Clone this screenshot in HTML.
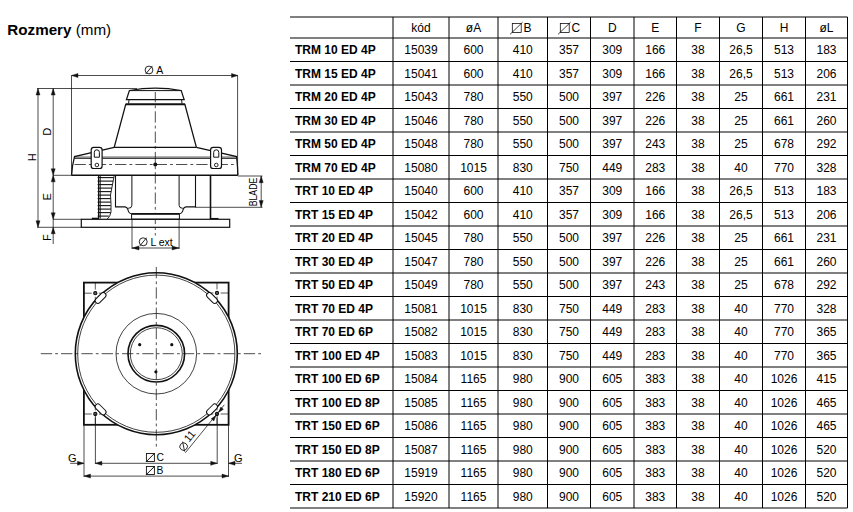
<!DOCTYPE html>
<html><head><meta charset="utf-8">
<style>
html,body{margin:0;padding:0;background:#fff;}
body{width:853px;height:512px;overflow:hidden;position:relative;}
svg{position:absolute;left:0;top:0;}
text{font-family:"Liberation Sans",sans-serif;fill:#000;}
.t{font-size:12.0px;}
.c{text-anchor:middle;}
.bd{font-weight:bold;}
</style></head>
<body>
<svg width="853" height="512" viewBox="0 0 853 512">
<text x="7.3" y="34.7" font-size="15.2"><tspan font-weight="bold">Rozmery</tspan> (mm)</text>
<line x1="290" y1="17" x2="847.5" y2="17" stroke="#000" stroke-width="1"/>
<line x1="290" y1="38" x2="847.5" y2="38" stroke="#000" stroke-width="1"/>
<line x1="290" y1="61.5" x2="847.5" y2="61.5" stroke="#000" stroke-width="1"/>
<line x1="290" y1="85.0" x2="847.5" y2="85.0" stroke="#000" stroke-width="1"/>
<line x1="290" y1="108.5" x2="847.5" y2="108.5" stroke="#000" stroke-width="1"/>
<line x1="290" y1="132.0" x2="847.5" y2="132.0" stroke="#000" stroke-width="1"/>
<line x1="290" y1="155.5" x2="847.5" y2="155.5" stroke="#000" stroke-width="1"/>
<line x1="290" y1="179.0" x2="847.5" y2="179.0" stroke="#000" stroke-width="1"/>
<line x1="290" y1="202.5" x2="847.5" y2="202.5" stroke="#000" stroke-width="1"/>
<line x1="290" y1="226.0" x2="847.5" y2="226.0" stroke="#000" stroke-width="1"/>
<line x1="290" y1="249.5" x2="847.5" y2="249.5" stroke="#000" stroke-width="1"/>
<line x1="290" y1="273.0" x2="847.5" y2="273.0" stroke="#000" stroke-width="1"/>
<line x1="290" y1="296.5" x2="847.5" y2="296.5" stroke="#000" stroke-width="1"/>
<line x1="290" y1="320.0" x2="847.5" y2="320.0" stroke="#000" stroke-width="1"/>
<line x1="290" y1="343.5" x2="847.5" y2="343.5" stroke="#000" stroke-width="1"/>
<line x1="290" y1="367.0" x2="847.5" y2="367.0" stroke="#000" stroke-width="1"/>
<line x1="290" y1="390.5" x2="847.5" y2="390.5" stroke="#000" stroke-width="1"/>
<line x1="290" y1="414.0" x2="847.5" y2="414.0" stroke="#000" stroke-width="1"/>
<line x1="290" y1="437.5" x2="847.5" y2="437.5" stroke="#000" stroke-width="1"/>
<line x1="290" y1="461.0" x2="847.5" y2="461.0" stroke="#000" stroke-width="1"/>
<line x1="290" y1="484.5" x2="847.5" y2="484.5" stroke="#000" stroke-width="1"/>
<line x1="290" y1="508.0" x2="847.5" y2="508.0" stroke="#000" stroke-width="1"/>
<line x1="393" y1="17" x2="393" y2="508.0" stroke="#000" stroke-width="1"/>
<line x1="449" y1="17" x2="449" y2="508.0" stroke="#000" stroke-width="1"/>
<line x1="498" y1="17" x2="498" y2="508.0" stroke="#000" stroke-width="1"/>
<line x1="547.5" y1="17" x2="547.5" y2="508.0" stroke="#000" stroke-width="1"/>
<line x1="590.5" y1="17" x2="590.5" y2="508.0" stroke="#000" stroke-width="1"/>
<line x1="634" y1="17" x2="634" y2="508.0" stroke="#000" stroke-width="1"/>
<line x1="676.5" y1="17" x2="676.5" y2="508.0" stroke="#000" stroke-width="1"/>
<line x1="719.5" y1="17" x2="719.5" y2="508.0" stroke="#000" stroke-width="1"/>
<line x1="762.5" y1="17" x2="762.5" y2="508.0" stroke="#000" stroke-width="1"/>
<line x1="805.5" y1="17" x2="805.5" y2="508.0" stroke="#000" stroke-width="1"/>
<line x1="847.5" y1="17" x2="847.5" y2="508.0" stroke="#000" stroke-width="1"/>
<text x="421.0" y="32.0" class="t c">kód</text>
<text x="473.5" y="32.0" class="t c">øA</text>
<rect x="512.3" y="23.4" width="8.9" height="9.0" fill="none" stroke="#000" stroke-width="0.75"/>
<line x1="510.1" y1="34.3" x2="522.6" y2="22.2" stroke="#000" stroke-width="0.75"/>
<text x="523.6" y="32.0" class="t">B</text>
<rect x="560.3" y="23.4" width="8.9" height="9.0" fill="none" stroke="#000" stroke-width="0.75"/>
<line x1="558.1" y1="34.3" x2="570.6" y2="22.2" stroke="#000" stroke-width="0.75"/>
<text x="571.6" y="32.0" class="t">C</text>
<text x="612.25" y="32.0" class="t c">D</text>
<text x="655.25" y="32.0" class="t c">E</text>
<text x="698.0" y="32.0" class="t c">F</text>
<text x="741.0" y="32.0" class="t c">G</text>
<text x="784.0" y="32.0" class="t c">H</text>
<text x="826.5" y="32.0" class="t c">øL</text>
<text x="295" y="54.05" class="t bd">TRM 10 ED 4P</text>
<text x="421.0" y="54.05" class="t c">15039</text>
<text x="473.5" y="54.05" class="t c">600</text>
<text x="522.75" y="54.05" class="t c">410</text>
<text x="569.0" y="54.05" class="t c">357</text>
<text x="612.25" y="54.05" class="t c">309</text>
<text x="655.25" y="54.05" class="t c">166</text>
<text x="698.0" y="54.05" class="t c">38</text>
<text x="741.0" y="54.05" class="t c">26,5</text>
<text x="784.0" y="54.05" class="t c">513</text>
<text x="826.5" y="54.05" class="t c">183</text>
<text x="295" y="77.55" class="t bd">TRM 15 ED 4P</text>
<text x="421.0" y="77.55" class="t c">15041</text>
<text x="473.5" y="77.55" class="t c">600</text>
<text x="522.75" y="77.55" class="t c">410</text>
<text x="569.0" y="77.55" class="t c">357</text>
<text x="612.25" y="77.55" class="t c">309</text>
<text x="655.25" y="77.55" class="t c">166</text>
<text x="698.0" y="77.55" class="t c">38</text>
<text x="741.0" y="77.55" class="t c">26,5</text>
<text x="784.0" y="77.55" class="t c">513</text>
<text x="826.5" y="77.55" class="t c">206</text>
<text x="295" y="101.05" class="t bd">TRM 20 ED 4P</text>
<text x="421.0" y="101.05" class="t c">15043</text>
<text x="473.5" y="101.05" class="t c">780</text>
<text x="522.75" y="101.05" class="t c">550</text>
<text x="569.0" y="101.05" class="t c">500</text>
<text x="612.25" y="101.05" class="t c">397</text>
<text x="655.25" y="101.05" class="t c">226</text>
<text x="698.0" y="101.05" class="t c">38</text>
<text x="741.0" y="101.05" class="t c">25</text>
<text x="784.0" y="101.05" class="t c">661</text>
<text x="826.5" y="101.05" class="t c">231</text>
<text x="295" y="124.55" class="t bd">TRM 30 ED 4P</text>
<text x="421.0" y="124.55" class="t c">15046</text>
<text x="473.5" y="124.55" class="t c">780</text>
<text x="522.75" y="124.55" class="t c">550</text>
<text x="569.0" y="124.55" class="t c">500</text>
<text x="612.25" y="124.55" class="t c">397</text>
<text x="655.25" y="124.55" class="t c">226</text>
<text x="698.0" y="124.55" class="t c">38</text>
<text x="741.0" y="124.55" class="t c">25</text>
<text x="784.0" y="124.55" class="t c">661</text>
<text x="826.5" y="124.55" class="t c">260</text>
<text x="295" y="148.05" class="t bd">TRM 50 ED 4P</text>
<text x="421.0" y="148.05" class="t c">15048</text>
<text x="473.5" y="148.05" class="t c">780</text>
<text x="522.75" y="148.05" class="t c">550</text>
<text x="569.0" y="148.05" class="t c">500</text>
<text x="612.25" y="148.05" class="t c">397</text>
<text x="655.25" y="148.05" class="t c">243</text>
<text x="698.0" y="148.05" class="t c">38</text>
<text x="741.0" y="148.05" class="t c">25</text>
<text x="784.0" y="148.05" class="t c">678</text>
<text x="826.5" y="148.05" class="t c">292</text>
<text x="295" y="171.55" class="t bd">TRM 70 ED 4P</text>
<text x="421.0" y="171.55" class="t c">15080</text>
<text x="473.5" y="171.55" class="t c">1015</text>
<text x="522.75" y="171.55" class="t c">830</text>
<text x="569.0" y="171.55" class="t c">750</text>
<text x="612.25" y="171.55" class="t c">449</text>
<text x="655.25" y="171.55" class="t c">283</text>
<text x="698.0" y="171.55" class="t c">38</text>
<text x="741.0" y="171.55" class="t c">40</text>
<text x="784.0" y="171.55" class="t c">770</text>
<text x="826.5" y="171.55" class="t c">328</text>
<text x="295" y="195.05" class="t bd">TRT 10 ED 4P</text>
<text x="421.0" y="195.05" class="t c">15040</text>
<text x="473.5" y="195.05" class="t c">600</text>
<text x="522.75" y="195.05" class="t c">410</text>
<text x="569.0" y="195.05" class="t c">357</text>
<text x="612.25" y="195.05" class="t c">309</text>
<text x="655.25" y="195.05" class="t c">166</text>
<text x="698.0" y="195.05" class="t c">38</text>
<text x="741.0" y="195.05" class="t c">26,5</text>
<text x="784.0" y="195.05" class="t c">513</text>
<text x="826.5" y="195.05" class="t c">183</text>
<text x="295" y="218.55" class="t bd">TRT 15 ED 4P</text>
<text x="421.0" y="218.55" class="t c">15042</text>
<text x="473.5" y="218.55" class="t c">600</text>
<text x="522.75" y="218.55" class="t c">410</text>
<text x="569.0" y="218.55" class="t c">357</text>
<text x="612.25" y="218.55" class="t c">309</text>
<text x="655.25" y="218.55" class="t c">166</text>
<text x="698.0" y="218.55" class="t c">38</text>
<text x="741.0" y="218.55" class="t c">26,5</text>
<text x="784.0" y="218.55" class="t c">513</text>
<text x="826.5" y="218.55" class="t c">206</text>
<text x="295" y="242.05" class="t bd">TRT 20 ED 4P</text>
<text x="421.0" y="242.05" class="t c">15045</text>
<text x="473.5" y="242.05" class="t c">780</text>
<text x="522.75" y="242.05" class="t c">550</text>
<text x="569.0" y="242.05" class="t c">500</text>
<text x="612.25" y="242.05" class="t c">397</text>
<text x="655.25" y="242.05" class="t c">226</text>
<text x="698.0" y="242.05" class="t c">38</text>
<text x="741.0" y="242.05" class="t c">25</text>
<text x="784.0" y="242.05" class="t c">661</text>
<text x="826.5" y="242.05" class="t c">231</text>
<text x="295" y="265.55" class="t bd">TRT 30 ED 4P</text>
<text x="421.0" y="265.55" class="t c">15047</text>
<text x="473.5" y="265.55" class="t c">780</text>
<text x="522.75" y="265.55" class="t c">550</text>
<text x="569.0" y="265.55" class="t c">500</text>
<text x="612.25" y="265.55" class="t c">397</text>
<text x="655.25" y="265.55" class="t c">226</text>
<text x="698.0" y="265.55" class="t c">38</text>
<text x="741.0" y="265.55" class="t c">25</text>
<text x="784.0" y="265.55" class="t c">661</text>
<text x="826.5" y="265.55" class="t c">260</text>
<text x="295" y="289.05" class="t bd">TRT 50 ED 4P</text>
<text x="421.0" y="289.05" class="t c">15049</text>
<text x="473.5" y="289.05" class="t c">780</text>
<text x="522.75" y="289.05" class="t c">550</text>
<text x="569.0" y="289.05" class="t c">500</text>
<text x="612.25" y="289.05" class="t c">397</text>
<text x="655.25" y="289.05" class="t c">243</text>
<text x="698.0" y="289.05" class="t c">38</text>
<text x="741.0" y="289.05" class="t c">25</text>
<text x="784.0" y="289.05" class="t c">678</text>
<text x="826.5" y="289.05" class="t c">292</text>
<text x="295" y="312.55" class="t bd">TRT 70 ED 4P</text>
<text x="421.0" y="312.55" class="t c">15081</text>
<text x="473.5" y="312.55" class="t c">1015</text>
<text x="522.75" y="312.55" class="t c">830</text>
<text x="569.0" y="312.55" class="t c">750</text>
<text x="612.25" y="312.55" class="t c">449</text>
<text x="655.25" y="312.55" class="t c">283</text>
<text x="698.0" y="312.55" class="t c">38</text>
<text x="741.0" y="312.55" class="t c">40</text>
<text x="784.0" y="312.55" class="t c">770</text>
<text x="826.5" y="312.55" class="t c">328</text>
<text x="295" y="336.05" class="t bd">TRT 70 ED 6P</text>
<text x="421.0" y="336.05" class="t c">15082</text>
<text x="473.5" y="336.05" class="t c">1015</text>
<text x="522.75" y="336.05" class="t c">830</text>
<text x="569.0" y="336.05" class="t c">750</text>
<text x="612.25" y="336.05" class="t c">449</text>
<text x="655.25" y="336.05" class="t c">283</text>
<text x="698.0" y="336.05" class="t c">38</text>
<text x="741.0" y="336.05" class="t c">40</text>
<text x="784.0" y="336.05" class="t c">770</text>
<text x="826.5" y="336.05" class="t c">365</text>
<text x="295" y="359.55" class="t bd">TRT 100 ED 4P</text>
<text x="421.0" y="359.55" class="t c">15083</text>
<text x="473.5" y="359.55" class="t c">1015</text>
<text x="522.75" y="359.55" class="t c">830</text>
<text x="569.0" y="359.55" class="t c">750</text>
<text x="612.25" y="359.55" class="t c">449</text>
<text x="655.25" y="359.55" class="t c">283</text>
<text x="698.0" y="359.55" class="t c">38</text>
<text x="741.0" y="359.55" class="t c">40</text>
<text x="784.0" y="359.55" class="t c">770</text>
<text x="826.5" y="359.55" class="t c">365</text>
<text x="295" y="383.05" class="t bd">TRT 100 ED 6P</text>
<text x="421.0" y="383.05" class="t c">15084</text>
<text x="473.5" y="383.05" class="t c">1165</text>
<text x="522.75" y="383.05" class="t c">980</text>
<text x="569.0" y="383.05" class="t c">900</text>
<text x="612.25" y="383.05" class="t c">605</text>
<text x="655.25" y="383.05" class="t c">383</text>
<text x="698.0" y="383.05" class="t c">38</text>
<text x="741.0" y="383.05" class="t c">40</text>
<text x="784.0" y="383.05" class="t c">1026</text>
<text x="826.5" y="383.05" class="t c">415</text>
<text x="295" y="406.55" class="t bd">TRT 100 ED 8P</text>
<text x="421.0" y="406.55" class="t c">15085</text>
<text x="473.5" y="406.55" class="t c">1165</text>
<text x="522.75" y="406.55" class="t c">980</text>
<text x="569.0" y="406.55" class="t c">900</text>
<text x="612.25" y="406.55" class="t c">605</text>
<text x="655.25" y="406.55" class="t c">383</text>
<text x="698.0" y="406.55" class="t c">38</text>
<text x="741.0" y="406.55" class="t c">40</text>
<text x="784.0" y="406.55" class="t c">1026</text>
<text x="826.5" y="406.55" class="t c">465</text>
<text x="295" y="430.05" class="t bd">TRT 150 ED 6P</text>
<text x="421.0" y="430.05" class="t c">15086</text>
<text x="473.5" y="430.05" class="t c">1165</text>
<text x="522.75" y="430.05" class="t c">980</text>
<text x="569.0" y="430.05" class="t c">900</text>
<text x="612.25" y="430.05" class="t c">605</text>
<text x="655.25" y="430.05" class="t c">383</text>
<text x="698.0" y="430.05" class="t c">38</text>
<text x="741.0" y="430.05" class="t c">40</text>
<text x="784.0" y="430.05" class="t c">1026</text>
<text x="826.5" y="430.05" class="t c">465</text>
<text x="295" y="453.55" class="t bd">TRT 150 ED 8P</text>
<text x="421.0" y="453.55" class="t c">15087</text>
<text x="473.5" y="453.55" class="t c">1165</text>
<text x="522.75" y="453.55" class="t c">980</text>
<text x="569.0" y="453.55" class="t c">900</text>
<text x="612.25" y="453.55" class="t c">605</text>
<text x="655.25" y="453.55" class="t c">383</text>
<text x="698.0" y="453.55" class="t c">38</text>
<text x="741.0" y="453.55" class="t c">40</text>
<text x="784.0" y="453.55" class="t c">1026</text>
<text x="826.5" y="453.55" class="t c">520</text>
<text x="295" y="477.05" class="t bd">TRT 180 ED 6P</text>
<text x="421.0" y="477.05" class="t c">15919</text>
<text x="473.5" y="477.05" class="t c">1165</text>
<text x="522.75" y="477.05" class="t c">980</text>
<text x="569.0" y="477.05" class="t c">900</text>
<text x="612.25" y="477.05" class="t c">605</text>
<text x="655.25" y="477.05" class="t c">383</text>
<text x="698.0" y="477.05" class="t c">38</text>
<text x="741.0" y="477.05" class="t c">40</text>
<text x="784.0" y="477.05" class="t c">1026</text>
<text x="826.5" y="477.05" class="t c">520</text>
<text x="295" y="500.55" class="t bd">TRT 210 ED 6P</text>
<text x="421.0" y="500.55" class="t c">15920</text>
<text x="473.5" y="500.55" class="t c">1165</text>
<text x="522.75" y="500.55" class="t c">980</text>
<text x="569.0" y="500.55" class="t c">900</text>
<text x="612.25" y="500.55" class="t c">605</text>
<text x="655.25" y="500.55" class="t c">383</text>
<text x="698.0" y="500.55" class="t c">38</text>
<text x="741.0" y="500.55" class="t c">40</text>
<text x="784.0" y="500.55" class="t c">1026</text>
<text x="826.5" y="500.55" class="t c">520</text>
<line x1="71.5" y1="75.5" x2="237.6" y2="75.5" stroke="#111" stroke-width="0.75" />
<path d="M71.50,75.50 L78.00,73.50 L78.00,77.50 Z" fill="#111" stroke="#111" stroke-width="0.4" stroke-linejoin="round"/>
<path d="M238.00,75.50 L231.50,77.50 L231.50,73.50 Z" fill="#111" stroke="#111" stroke-width="0.4" stroke-linejoin="round"/>
<line x1="71.5" y1="75.5" x2="71.5" y2="175.2" stroke="#111" stroke-width="0.75" />
<line x1="237.6" y1="75.5" x2="237.6" y2="175" stroke="#111" stroke-width="0.75" />
<circle cx="149.0" cy="70.0" r="3.9" fill="none" stroke="#111" stroke-width="0.9"/>
<line x1="145.69" y1="73.98" x2="152.31" y2="66.02" stroke="#111" stroke-width="0.9" />
<text x="156.2" y="73.8" font-size="11" text-anchor="start" textLength="7.0" lengthAdjust="spacingAndGlyphs" >A</text>
<line x1="38" y1="88.5" x2="38" y2="227.3" stroke="#111" stroke-width="0.75" />
<path d="M38.00,88.50 L40.00,95.00 L36.00,95.00 Z" fill="#111" stroke="#111" stroke-width="0.4" stroke-linejoin="round"/>
<path d="M38.00,227.30 L36.00,220.80 L40.00,220.80 Z" fill="#111" stroke="#111" stroke-width="0.4" stroke-linejoin="round"/>
<line x1="53.2" y1="88.5" x2="53.2" y2="244" stroke="#111" stroke-width="0.75" />
<path d="M53.20,88.50 L55.20,95.00 L51.20,95.00 Z" fill="#111" stroke="#111" stroke-width="0.4" stroke-linejoin="round"/>
<path d="M53.20,175.30 L51.20,168.80 L55.20,168.80 Z" fill="#111" stroke="#111" stroke-width="0.4" stroke-linejoin="round"/>
<path d="M53.20,175.30 L55.20,181.80 L51.20,181.80 Z" fill="#111" stroke="#111" stroke-width="0.4" stroke-linejoin="round"/>
<path d="M53.20,219.30 L51.20,212.80 L55.20,212.80 Z" fill="#111" stroke="#111" stroke-width="0.4" stroke-linejoin="round"/>
<path d="M53.20,227.30 L55.20,233.80 L51.20,233.80 Z" fill="#111" stroke="#111" stroke-width="0.4" stroke-linejoin="round"/>
<line x1="37" y1="88.5" x2="137" y2="88.5" stroke="#111" stroke-width="0.75" />
<line x1="53" y1="175.3" x2="72" y2="175.3" stroke="#111" stroke-width="0.75" />
<line x1="53" y1="219.3" x2="81.5" y2="219.3" stroke="#111" stroke-width="0.75" />
<line x1="37" y1="227.3" x2="81.5" y2="227.3" stroke="#111" stroke-width="0.75" />
<text x="35.7" y="157.2" font-size="11" text-anchor="middle" transform="rotate(-90 35.7 157.2)" >H</text>
<text x="51.3" y="131.8" font-size="11" text-anchor="middle" transform="rotate(-90 51.3 131.8)" >D</text>
<text x="51.4" y="196.8" font-size="11" text-anchor="middle" transform="rotate(-90 51.4 196.8)" >E</text>
<text x="51.0" y="237.6" font-size="11" text-anchor="middle" transform="rotate(-90 51.0 237.6)" >F</text>
<path d="M126.4,99.7 L129.4,90.5 Q155.3,85.8 181.2,90.5 L184.2,99.7 Z" stroke="#111" stroke-width="1.2" fill="#fff" />
<line x1="129.4" y1="90.6" x2="181.2" y2="90.6" stroke="#111" stroke-width="1.0" />
<path d="M129.0,99.7 L128.6,103.5 M181.6,99.7 L182.0,103.5" stroke="#111" stroke-width="1.0" fill="none" />
<line x1="125.5" y1="104.2" x2="185.1" y2="104.2" stroke="#111" stroke-width="2.0" />
<path d="M125.8,104.2 L114.2,147.3 M184.8,104.2 L196.4,147.3" stroke="#111" stroke-width="1.3" fill="none" />
<line x1="114.2" y1="147.3" x2="196.4" y2="147.3" stroke="#111" stroke-width="1.2" />
<path d="M114.2,147.3 L74.5,156.6 Q72.2,165 71.6,175.2 M196.4,147.3 L236.6,156.6 Q237.6,165 237.9,175.2" stroke="#111" stroke-width="1.3" fill="none" />
<line x1="74.5" y1="157.1" x2="236.6" y2="157.1" stroke="#111" stroke-width="0.8" />
<line x1="74.3" y1="158.5" x2="236.8" y2="158.5" stroke="#111" stroke-width="0.8" />
<line x1="71.6" y1="175.2" x2="237.9" y2="175.2" stroke="#111" stroke-width="1.4" />
<line x1="74.5" y1="164.5" x2="237" y2="164.5" stroke="#111" stroke-width="0.75" stroke-dasharray="11.3 3.1 2.8 3.1"/>
<circle cx="155.3" cy="164.5" r="2.0" fill="#111"/>
<rect x="91.2" y="147.4" width="10.9" height="21.1" rx="2.6" fill="#fff" stroke="#111" stroke-width="1.2"/>
<path d="M94.3,157.2 L94.3,152.3 Q94.3,149.8 96.85,149.8 Q99.39999999999999,149.8 99.39999999999999,152.3 L99.39999999999999,157.2 Z" stroke="#111" stroke-width="1.0" fill="#fff" />
<circle cx="96.9" cy="165" r="1.8" fill="#fff" stroke="#111" stroke-width="0.9"/>
<rect x="210.6" y="147.4" width="10.9" height="21.1" rx="2.6" fill="#fff" stroke="#111" stroke-width="1.2"/>
<path d="M213.7,157.2 L213.7,152.3 Q213.7,149.8 216.25,149.8 Q218.79999999999998,149.8 218.79999999999998,152.3 L218.79999999999998,157.2 Z" stroke="#111" stroke-width="1.0" fill="#fff" />
<circle cx="216.29999999999998" cy="165" r="1.8" fill="#fff" stroke="#111" stroke-width="0.9"/>
<line x1="155.3" y1="92" x2="155.3" y2="235.5" stroke="#111" stroke-width="0.75" stroke-dasharray="11.3 3.1 2.8 3.1" stroke-dashoffset="1"/>
<line x1="98.6" y1="175.2" x2="98.6" y2="218.6" stroke="#111" stroke-width="1.2" />
<line x1="100.2" y1="175.2" x2="100.2" y2="218.6" stroke="#111" stroke-width="1.0" />
<line x1="97.6" y1="177.6" x2="113.8" y2="177.6" stroke="#111" stroke-width="1.1" />
<line x1="97.6" y1="181.1" x2="113.14" y2="181.1" stroke="#111" stroke-width="1.1" />
<line x1="97.6" y1="184.6" x2="112.47" y2="184.6" stroke="#111" stroke-width="1.1" />
<line x1="97.6" y1="188.1" x2="111.81" y2="188.1" stroke="#111" stroke-width="1.1" />
<line x1="97.6" y1="191.6" x2="111.15" y2="191.6" stroke="#111" stroke-width="1.1" />
<line x1="97.6" y1="195.1" x2="110.5" y2="195.1" stroke="#111" stroke-width="1.1" />
<line x1="97.6" y1="198.6" x2="110.61" y2="198.6" stroke="#111" stroke-width="1.1" />
<line x1="97.6" y1="202.1" x2="110.71" y2="202.1" stroke="#111" stroke-width="1.1" />
<line x1="97.6" y1="205.6" x2="110.81" y2="205.6" stroke="#111" stroke-width="1.1" />
<line x1="97.6" y1="209.1" x2="110.91" y2="209.1" stroke="#111" stroke-width="1.1" />
<line x1="97.6" y1="212.6" x2="110.67" y2="212.6" stroke="#111" stroke-width="1.1" />
<line x1="97.6" y1="216.1" x2="108.77" y2="216.1" stroke="#111" stroke-width="1.1" />
<path d="M114.2,175.5 L110.5,195 Q111.3,205 111,212 Q110.2,217 107.2,219" stroke="#111" stroke-width="0.9" fill="none" />
<line x1="91.8" y1="218.4" x2="99" y2="218.4" stroke="#111" stroke-width="1.4" />
<path d="M115.5,175.2 L115.5,206.9 L125.1,206.9 Q127.3,207.2 127.9,209.5 Q128.6,213.4 131.5,213.7" stroke="#111" stroke-width="1.1" fill="none" />
<path d="M131.9,175.2 L131.9,205.3 Q131.9,208.3 128.2,208.3" stroke="#111" stroke-width="1.0" fill="none" />
<path d="M195.5,175.2 L195.5,206.9 L185.9,206.9 Q183.7,207.2 183.1,209.5 Q182.4,213.4 179.5,213.7" stroke="#111" stroke-width="1.1" fill="none" />
<path d="M179.1,175.2 L179.1,205.3 Q179.1,208.3 182.8,208.3" stroke="#111" stroke-width="1.0" fill="none" />
<line x1="210.5" y1="175.2" x2="210.5" y2="219" stroke="#111" stroke-width="1.6" />
<line x1="210.5" y1="218.5" x2="218.5" y2="218.5" stroke="#111" stroke-width="1.1" />
<rect x="131.6" y="213.8" width="47.8" height="5.4" fill="#fff" stroke="#111" stroke-width="1.0"/>
<line x1="131.6" y1="213.9" x2="179.4" y2="213.9" stroke="#111" stroke-width="1.7" />
<rect x="81.3" y="219.3" width="148.4" height="8" fill="none" stroke="#111" stroke-width="1.2"/>
<line x1="237.9" y1="176" x2="262.5" y2="176" stroke="#111" stroke-width="0.75" />
<line x1="195.3" y1="207.3" x2="262.5" y2="207.3" stroke="#111" stroke-width="0.75" />
<line x1="261.2" y1="176" x2="261.2" y2="207.3" stroke="#111" stroke-width="0.75" />
<path d="M261.20,176.20 L263.20,182.70 L259.20,182.70 Z" fill="#111" stroke="#111" stroke-width="0.4" stroke-linejoin="round"/>
<path d="M261.20,207.10 L259.20,200.60 L263.20,200.60 Z" fill="#111" stroke="#111" stroke-width="0.4" stroke-linejoin="round"/>
<text x="256.7" y="192" font-size="10.0" text-anchor="middle" transform="rotate(-90 256.7 192)" textLength="28.6" lengthAdjust="spacingAndGlyphs" >BLADE</text>
<line x1="132" y1="219" x2="132" y2="249" stroke="#111" stroke-width="0.75" />
<line x1="179.1" y1="219" x2="179.1" y2="249" stroke="#111" stroke-width="0.75" />
<line x1="132" y1="248" x2="179.1" y2="248" stroke="#111" stroke-width="0.75" />
<path d="M132.00,248.00 L139.00,246.00 L139.00,250.00 Z" fill="#111" stroke="#111" stroke-width="0.4" stroke-linejoin="round"/>
<path d="M179.10,248.00 L172.10,250.00 L172.10,246.00 Z" fill="#111" stroke="#111" stroke-width="0.4" stroke-linejoin="round"/>
<circle cx="143.2" cy="241.8" r="4.0" fill="none" stroke="#111" stroke-width="0.9"/>
<line x1="139.8" y1="245.88" x2="146.6" y2="237.72" stroke="#111" stroke-width="0.9" />
<text x="150.4" y="245.8" font-size="11" text-anchor="start" textLength="22.3" lengthAdjust="spacingAndGlyphs" >L ext</text>
<rect x="83.9" y="282.6" width="144.7" height="142.2" fill="none" stroke="#111" stroke-width="1.8"/>
<line x1="91.7" y1="293.2" x2="84.0" y2="293.2" stroke="#111" stroke-width="0.7" />
<line x1="98.9" y1="293.2" x2="101.5" y2="293.2" stroke="#111" stroke-width="0.7" />
<line x1="95.3" y1="289.6" x2="95.3" y2="282.6" stroke="#111" stroke-width="0.7" />
<line x1="95.3" y1="296.8" x2="95.3" y2="299.2" stroke="#111" stroke-width="0.7" />
<line x1="220.6" y1="293.0" x2="228.5" y2="293.0" stroke="#111" stroke-width="0.7" />
<line x1="213.4" y1="293.0" x2="210.8" y2="293.0" stroke="#111" stroke-width="0.7" />
<line x1="217.0" y1="289.4" x2="217.0" y2="282.6" stroke="#111" stroke-width="0.7" />
<line x1="217.0" y1="296.6" x2="217.0" y2="299.0" stroke="#111" stroke-width="0.7" />
<line x1="91.7" y1="414.0" x2="84.0" y2="414.0" stroke="#111" stroke-width="0.7" />
<line x1="98.9" y1="414.0" x2="101.5" y2="414.0" stroke="#111" stroke-width="0.7" />
<line x1="95.3" y1="417.6" x2="95.3" y2="424.8" stroke="#111" stroke-width="0.7" />
<line x1="95.3" y1="410.4" x2="95.3" y2="408.0" stroke="#111" stroke-width="0.7" />
<line x1="220.6" y1="414.0" x2="228.5" y2="414.0" stroke="#111" stroke-width="0.7" />
<line x1="213.4" y1="414.0" x2="210.8" y2="414.0" stroke="#111" stroke-width="0.7" />
<line x1="217.0" y1="417.6" x2="217.0" y2="424.8" stroke="#111" stroke-width="0.7" />
<line x1="217.0" y1="410.4" x2="217.0" y2="408.0" stroke="#111" stroke-width="0.7" />
<circle cx="156.3" cy="353.7" r="81" fill="#fff" stroke="#111" stroke-width="1.6"/>
<circle cx="156.3" cy="353.7" r="78.6" fill="none" stroke="#111" stroke-width="0.8"/>
<circle cx="95.3" cy="293.2" r="1.6" fill="#666" stroke="#111" stroke-width="1.1"/>
<circle cx="217.0" cy="293.0" r="1.6" fill="#666" stroke="#111" stroke-width="1.1"/>
<circle cx="95.3" cy="414.0" r="1.6" fill="#666" stroke="#111" stroke-width="1.1"/>
<circle cx="217.0" cy="414.0" r="1.6" fill="#666" stroke="#111" stroke-width="1.1"/>
<circle cx="156.3" cy="353.7" r="40.3" fill="none" stroke="#111" stroke-width="0.8"/>
<circle cx="156.3" cy="353.7" r="28.3" fill="none" stroke="#111" stroke-width="1.6"/>
<circle cx="156.3" cy="353.7" r="26.0" fill="none" stroke="#111" stroke-width="0.8"/>
<circle cx="139.7" cy="344.7" r="1.6" fill="#111"/>
<circle cx="171.8" cy="344.7" r="1.6" fill="#111"/>
<circle cx="155.9" cy="371.8" r="1.6" fill="#111"/>
<rect x="94.08" y="295.28" width="13" height="5.4" rx="2.6" fill="#fff" stroke="#111" stroke-width="1.0" transform="rotate(315 100.58 297.98)"/>
<rect x="205.52" y="295.28" width="13" height="5.4" rx="2.6" fill="#fff" stroke="#111" stroke-width="1.0" transform="rotate(405 212.02 297.98)"/>
<rect x="94.08" y="406.72" width="13" height="5.4" rx="2.6" fill="#fff" stroke="#111" stroke-width="1.0" transform="rotate(225 100.58 409.42)"/>
<rect x="205.52" y="406.72" width="13" height="5.4" rx="2.6" fill="#fff" stroke="#111" stroke-width="1.0" transform="rotate(135 212.02 409.42)"/>
<line x1="40.8" y1="353.7" x2="263" y2="353.7" stroke="#111" stroke-width="0.75" stroke-dasharray="11.3 3.1 2.8 3.1"/>
<line x1="156.3" y1="267" x2="156.3" y2="448" stroke="#111" stroke-width="0.75" stroke-dasharray="11.3 3.1 2.8 3.1"/>
<line x1="84" y1="425" x2="84" y2="477" stroke="#111" stroke-width="0.75" />
<line x1="228.5" y1="425" x2="228.5" y2="477" stroke="#111" stroke-width="0.75" />
<line x1="95.4" y1="414" x2="95.4" y2="464" stroke="#111" stroke-width="0.75" />
<line x1="217.2" y1="414" x2="217.2" y2="464" stroke="#111" stroke-width="0.75" />
<line x1="95.4" y1="463.3" x2="217.2" y2="463.3" stroke="#111" stroke-width="0.75" />
<path d="M95.40,463.30 L101.90,461.30 L101.90,465.30 Z" fill="#111" stroke="#111" stroke-width="0.4" stroke-linejoin="round"/>
<path d="M217.20,463.30 L210.70,465.30 L210.70,461.30 Z" fill="#111" stroke="#111" stroke-width="0.4" stroke-linejoin="round"/>
<line x1="70.2" y1="463.3" x2="84" y2="463.3" stroke="#111" stroke-width="0.75" />
<path d="M84.00,463.30 L77.50,465.30 L77.50,461.30 Z" fill="#111" stroke="#111" stroke-width="0.4" stroke-linejoin="round"/>
<line x1="228.5" y1="463.3" x2="242" y2="463.3" stroke="#111" stroke-width="0.75" />
<path d="M228.50,463.30 L235.00,461.30 L235.00,465.30 Z" fill="#111" stroke="#111" stroke-width="0.4" stroke-linejoin="round"/>
<line x1="84" y1="476.1" x2="228.5" y2="476.1" stroke="#111" stroke-width="0.75" />
<path d="M84.00,476.10 L90.50,474.10 L90.50,478.10 Z" fill="#111" stroke="#111" stroke-width="0.4" stroke-linejoin="round"/>
<path d="M228.50,476.10 L222.00,478.10 L222.00,474.10 Z" fill="#111" stroke="#111" stroke-width="0.4" stroke-linejoin="round"/>
<text x="72.2" y="461.5" font-size="11" text-anchor="middle" >G</text>
<text x="238.4" y="461.5" font-size="11" text-anchor="middle" >G</text>
<rect x="146.4" y="453.5" width="8.0" height="8.0" fill="none" stroke="#111" stroke-width="0.9"/>
<line x1="146.1" y1="461.8" x2="154.7" y2="453.2" stroke="#111" stroke-width="1.0" />
<text x="156.6" y="461.4" font-size="10.3" text-anchor="start" >C</text>
<rect x="146.4" y="466.5" width="8.0" height="8.0" fill="none" stroke="#111" stroke-width="0.9"/>
<line x1="146.1" y1="474.8" x2="154.7" y2="466.2" stroke="#111" stroke-width="1.0" />
<text x="156.6" y="474.3" font-size="10.3" text-anchor="start" >B</text>
<line x1="185.3" y1="452.8" x2="224.3" y2="404.8" stroke="#111" stroke-width="0.75" />
<path d="M216.00,415.60 L213.83,420.93 L211.20,418.78 Z" fill="#111" stroke="#111" stroke-width="0.4" stroke-linejoin="round"/>
<path d="M218.60,412.40 L220.77,407.07 L223.40,409.22 Z" fill="#111" stroke="#111" stroke-width="0.4" stroke-linejoin="round"/>
<g transform="translate(183.7 452.2) rotate(-51)">
<circle cx="4.3" cy="-3.6" r="3.8" fill="none" stroke="#111" stroke-width="0.8"/>
<line x1="1.07" y1="0.28" x2="7.53" y2="-7.48" stroke="#111" stroke-width="0.8" />
<text x="10.8" y="-1.8" font-size="10.8" text-anchor="start" font-weight="normal">11</text>
</g>
</svg>
</body></html>
